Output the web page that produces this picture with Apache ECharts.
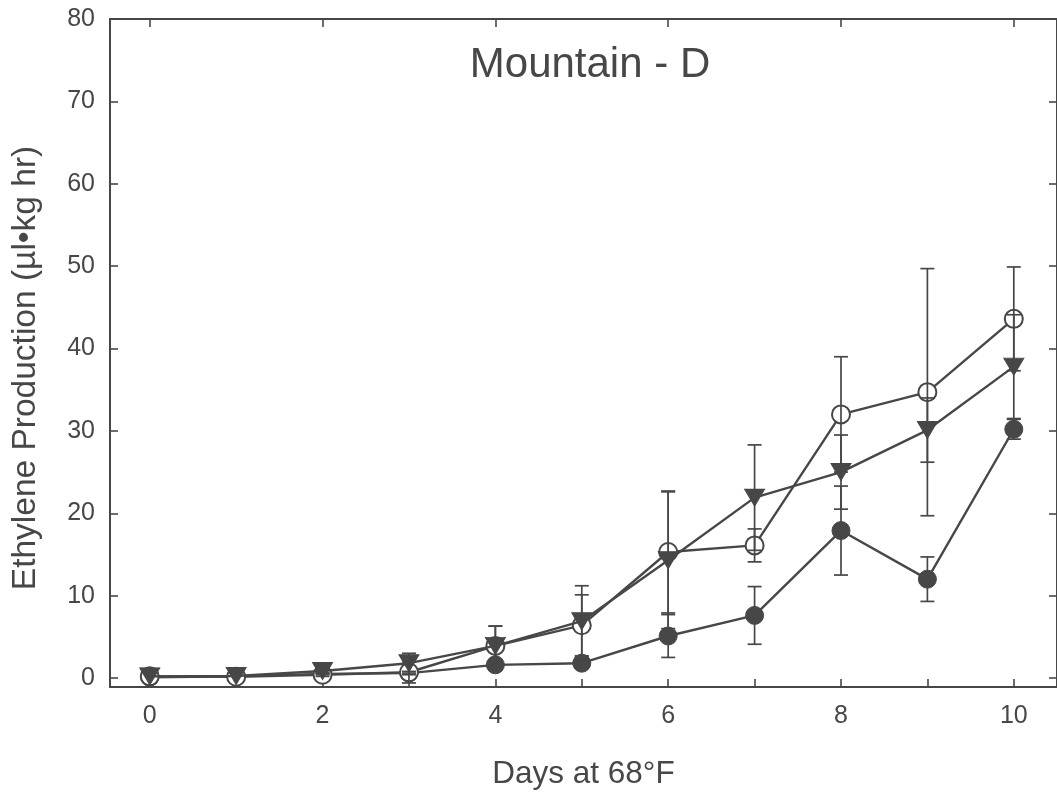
<!DOCTYPE html>
<html>
<head>
<meta charset="utf-8">
<script src="https://cdn.jsdelivr.net/npm/echarts@6/dist/echarts.min.js"></script>
<style>
html,body{margin:0;padding:0;background:#fff;}
#chart{width:1057px;height:795px;}
</style>
</head>
<body>
<div id="chart"></div>
<script>
// ---- data ----
var days = [0, 1, 2, 3, 4, 5, 6, 7, 8, 9, 10];
var openMean   = [0.2, 0.15, 0.4, 0.7, 3.9, 6.4, 15.3, 16.1, 32.0, 34.7, 43.6];
var openErr    = [0, 0, 0.2, 1.3, 2.4, 3.7, 7.4, 2.0, 7.0, 15.0, 6.3];
var triMean    = [0.2, 0.25, 0.85, 1.8, 3.9, 6.9, 14.3, 21.9, 25.0, 30.1, 37.8];
var triErr     = [0, 0, 0.3, 1.2, 2.4, 4.3, 8.3, 6.4, 4.5, 3.9, 6.3];
var filledMean = [0.1, 0.2, 0.5, 0.6, 1.6, 1.8, 5.1, 7.6, 17.9, 12.0, 30.2];
var filledErr  = [0, 0, 0.1, 0.2, 0.6, 0.5, 2.6, 3.5, 5.4, 2.7, 1.2];
var xTickValues  = [0, 1, 2, 3, 4, 5, 6, 7, 8, 9, 10];
var xLabelValues = [0, 2, 4, 6, 8, 10];
var yTickValues  = [0, 10, 20, 30, 40, 50, 60, 70, 80];

var INK = '#474747';
var FONT = '"Liberation Sans", Arial, Helvetica, sans-serif';

function pairs(means) {
  return days.map(function (d, i) { return [d, means[i]]; });
}
function errData(means, errs) {
  var out = [];
  days.forEach(function (d, i) {
    if (errs[i] > 0) out.push([d, means[i] - errs[i], means[i] + errs[i]]);
  });
  return out;
}
function errSeries(means, errs, z) {
  return {
    type: 'custom',
    z: z,
    silent: true,
    data: errData(means, errs),
    encode: { x: 0, y: [1, 2] },
    renderItem: function (params, api) {
      var x = api.value(0);
      var lo = api.coord([x, api.value(1)]);
      var hi = api.coord([x, api.value(2)]);
      var w = 7;
      var st = { stroke: INK, lineWidth: 1.7 };
      return {
        type: 'group',
        children: [
          { type: 'line', shape: { x1: lo[0], y1: lo[1], x2: hi[0], y2: hi[1] }, style: st },
          { type: 'line', shape: { x1: hi[0] - w, y1: hi[1], x2: hi[0] + w, y2: hi[1] }, style: st },
          { type: 'line', shape: { x1: lo[0] - w, y1: lo[1], x2: lo[0] + w, y2: lo[1] }, style: st }
        ]
      };
    }
  };
}

var chart = echarts.init(document.getElementById('chart'), null, { renderer: 'canvas' });

var axisLineStyle = { color: INK, width: 2 };

var option = {
  animation: false,
  backgroundColor: '#fff',
  title: {
    text: 'Mountain - D',
    left: 585,
    top: 39,
    textAlign: 'center',
    textStyle: { fontFamily: FONT, fontSize: 42, fontWeight: 'normal', color: INK }
  },
  graphic: [{
    type: 'text',
    x: 26,
    y: 368,
    rotation: Math.PI / 2,
    style: {
      text: 'Ethylene Production (µl•kg hr)',
      font: '33.5px ' + FONT,
      fill: INK,
      textAlign: 'center',
      textVerticalAlign: 'middle'
    }
  }],
  grid: { left: 110, top: 19, width: 948, height: 671, containLabel: false, show: false },
  xAxis: [{
    type: 'value',
    position: 'bottom',
    min: -0.46, max: 10.5,
    axisLine: { show: true, onZero: false, lineStyle: axisLineStyle },
    axisTick: { show: true, inside: true, length: 8, customValues: xTickValues, lineStyle: { color: INK, width: 1.6 } },
    axisLabel: { customValues: xLabelValues, fontFamily: FONT, fontSize: 25, color: INK, margin: 17 },
    splitLine: { show: false },
    name: 'Days at 68°F',
    nameLocation: 'middle',
    nameGap: 71,
    nameTextStyle: { fontFamily: FONT, fontSize: 31.5, color: INK }
  }, {
    type: 'value',
    position: 'top',
    min: -0.46, max: 10.5,
    axisLine: { show: true, onZero: false, lineStyle: axisLineStyle },
    axisTick: { show: true, inside: true, length: 8, customValues: xLabelValues, lineStyle: { color: INK, width: 1.6 } },
    axisLabel: { show: false },
    splitLine: { show: false }
  }],
  yAxis: [{
    type: 'value',
    position: 'left',
    min: -1.09, max: 80,
    axisLine: { show: true, onZero: false, lineStyle: axisLineStyle },
    axisTick: { show: true, inside: true, length: 8, customValues: yTickValues, lineStyle: { color: INK, width: 1.6 } },
    axisLabel: { customValues: yTickValues, fontFamily: FONT, fontSize: 25, color: INK, margin: 15 },
    splitLine: { show: false }
  }, {
    type: 'value',
    position: 'right',
    min: -1.09, max: 80,
    axisLine: { show: true, onZero: false, lineStyle: axisLineStyle },
    axisTick: { show: true, inside: true, length: 8, customValues: yTickValues, lineStyle: { color: INK, width: 1.6 } },
    axisLabel: { show: false },
    splitLine: { show: false }
  }],
  series: [
    {
      name: 'filled', type: 'line', z: 2,
      data: pairs(filledMean),
      symbol: 'circle', symbolSize: 18,
      lineStyle: { color: INK, width: 2.4 },
      itemStyle: { color: INK, borderColor: INK, borderWidth: 1 }
    },
    {
      name: 'open', type: 'line', z: 3,
      data: pairs(openMean),
      symbol: 'circle', symbolSize: 18,
      lineStyle: { color: INK, width: 2.4 },
      itemStyle: { color: '#fff', borderColor: INK, borderWidth: 2 }
    },
    {
      name: 'triangle', type: 'line', z: 4,
      data: pairs(triMean),
      symbol: 'triangle', symbolSize: [20, 17], symbolRotate: 180,
      lineStyle: { color: INK, width: 2.4 },
      itemStyle: { color: INK, borderColor: INK, borderWidth: 1 }
    },
    errSeries(filledMean, filledErr, 5),
    errSeries(openMean, openErr, 5),
    errSeries(triMean, triErr, 5)
  ]
};
chart.setOption(option);
</script>
</body>
</html>
